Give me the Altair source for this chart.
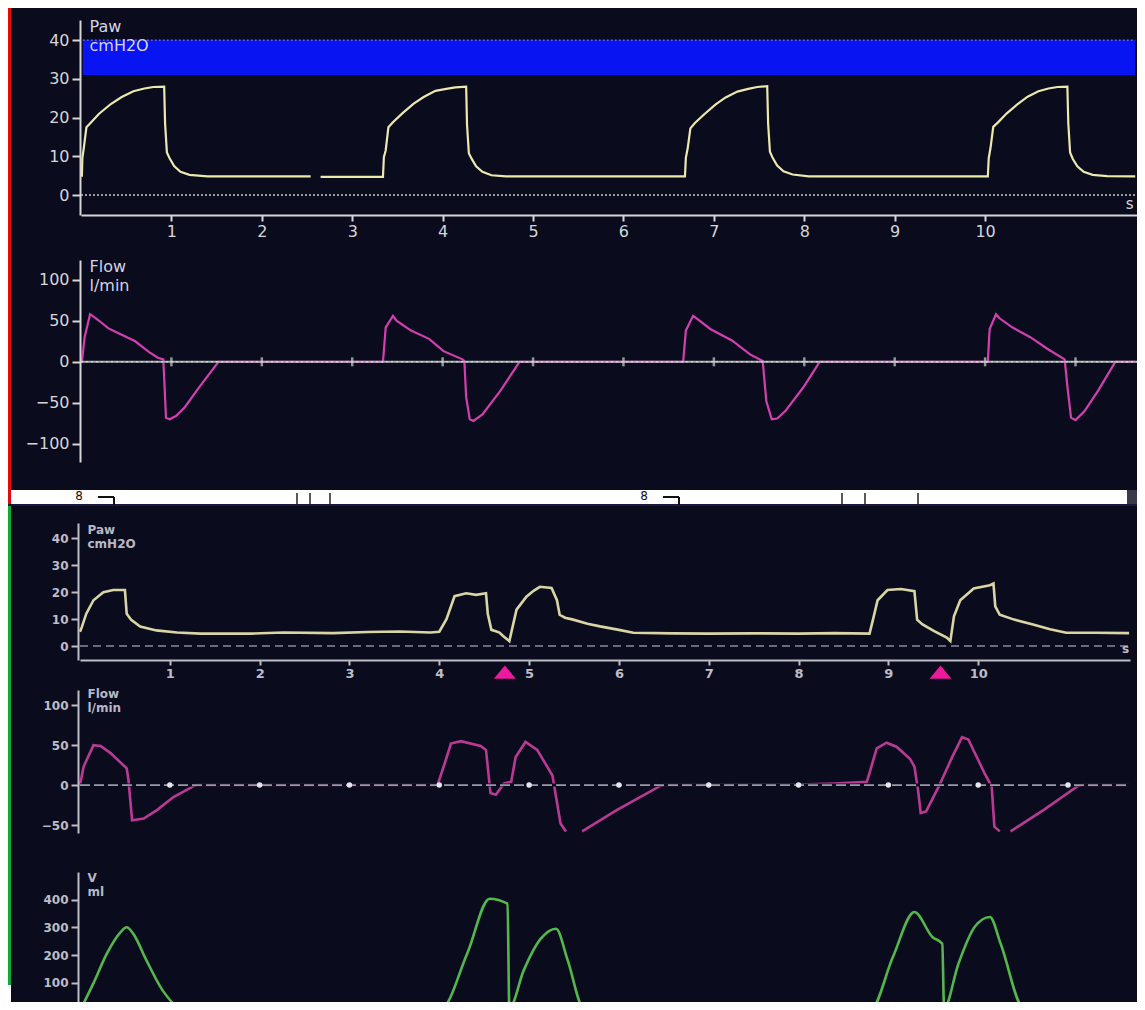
import altair as alt
import pandas as pd

# ---------------- data ----------------
# Top monitor: airway pressure (cmH2O) vs time (s)
top_paw_t = [0.00, 0.01, 0.015, 0.03, 0.06, 0.10, 0.20, 0.33, 0.45, 0.58, 0.70, 0.80, 0.92, 0.93, 0.95, 0.98, 1.03, 1.10, 1.20, 1.40, 2.54, None, 2.65, 3.34,
             3.35, 3.37, 3.40, 3.45, 3.56, 3.68, 3.79, 3.92, 4.04, 4.14, 4.26, 4.27, 4.29, 4.32, 4.37, 4.44, 4.54, 4.70, 6.68,
             6.69, 6.71, 6.74, 6.79, 6.90, 7.02, 7.13, 7.26, 7.38, 7.48, 7.59, 7.60, 7.62, 7.65, 7.70, 7.77, 7.87, 8.05, 10.03,
             10.04, 10.06, 10.09, 10.14, 10.24, 10.36, 10.47, 10.59, 10.70, 10.80, 10.91, 10.92, 10.94, 10.97, 11.02, 11.09, 11.19, 11.35, 11.66]
top_paw_v = [5.0, 5.0, 9.5, 12.0, 17.5, 18.5, 21.0, 23.5, 25.3, 26.8, 27.5, 27.9, 28.0, 18.5, 11.0, 9.5, 7.5, 6.0, 5.2, 4.8, 4.8, None, 4.7, 4.7,
             9.8, 11.5, 17.5, 18.8, 21.2, 23.6, 25.3, 26.9, 27.4, 27.8, 28.0, 18.0, 10.8, 9.4, 7.4, 6.0, 5.1, 4.8, 4.8,
             9.6, 12.0, 17.2, 18.6, 21.0, 23.4, 25.2, 26.7, 27.4, 27.9, 28.1, 18.4, 11.2, 9.6, 7.6, 6.1, 5.3, 4.8, 4.8,
             9.5, 12.2, 17.6, 18.7, 21.1, 23.5, 25.4, 26.8, 27.5, 27.9, 28.0, 18.6, 11.0, 9.3, 7.4, 6.0, 5.2, 4.9, 4.8]

# Top monitor: flow (l/min)
top_flow_t = [0.00, 0.01, 0.04, 0.10, 0.14, 0.20, 0.30, 0.45, 0.60, 0.75, 0.85, 0.91, 0.92, 0.94, 0.98, 1.05, 1.15, 1.30, 1.52, 3.33,
              3.34, 3.37, 3.45, 3.49, 3.65, 3.85, 4.01, 4.22, 4.24, 4.26, 4.30, 4.34, 4.44, 4.64, 4.85, 6.65,
              6.66, 6.69, 6.77, 6.82, 6.96, 7.20, 7.40, 7.54, 7.58, 7.64, 7.70, 7.79, 7.99, 8.17, 10.02,
              10.03, 10.05, 10.12, 10.16, 10.30, 10.50, 10.70, 10.88, 10.91, 10.95, 11.00, 11.10, 11.25, 11.44, 11.66]
top_flow_v = [0, 0, 30, 58, 55, 50, 41, 33, 25, 12, 5, 3, -20, -68, -70, -66, -55, -32, 0, 0,
              0, 42, 56, 50, 38, 28, 13, 3, 1, -43, -70, -72, -64, -35, 0, 0,
              0, 38, 56, 52, 40, 26, 9, 1, -48, -70, -69, -60, -31, 0, 0,
              0, 40, 58, 53, 42, 30, 15, 3, -30, -68, -71, -60, -35, 0, 0]

# Pressure alarm band (cmH2O)
alarm_low = 31
alarm_high = 40

# Bottom monitor: airway pressure
bot_paw_t = [0.00, 0.02, 0.07, 0.15, 0.26, 0.37, 0.50, 0.52, 0.57, 0.67, 0.85, 1.08, 1.34, 1.90, 2.26, 2.82, 3.20, 3.56, 3.90, 4.00,
             4.08, 4.17, 4.30, 4.41, 4.52, 4.54, 4.58, 4.63, 4.67, 4.71, 4.78, 4.86, 4.97, 5.05, 5.12, 5.25, 5.31, 5.34, 5.40, 5.49,
             5.65, 5.79, 6.00, 6.16, 6.60, 7.00, 7.50, 8.00, 8.40, 8.79, 8.83, 8.88, 8.99, 9.14, 9.29, 9.32, 9.38, 9.51, 9.65, 9.69,
             9.73, 9.80, 9.95, 10.13, 10.17, 10.19, 10.24, 10.40, 10.61, 10.80, 10.98, 11.30, 11.68]
bot_paw_v = [5.3, 7.0, 12.0, 17.0, 20.0, 20.8, 20.8, 12.0, 9.7, 7.2, 5.8, 5.0, 4.6, 4.6, 5.0, 4.8, 5.2, 5.4, 5.0, 5.3,
             10.0, 18.5, 19.6, 19.0, 19.6, 12.0, 6.0, 5.5, 5.0, 3.7, 1.8, 13.5, 18.3, 20.5, 22.0, 21.6, 17.0, 11.6, 10.5, 9.8,
             8.3, 7.3, 6.0, 4.9, 4.7, 4.6, 4.7, 4.6, 4.8, 4.6, 10.0, 17.0, 20.8, 21.2, 20.4, 9.8, 8.0, 5.5, 3.1, 1.8,
             11.0, 17.0, 21.4, 22.6, 23.2, 14.7, 11.6, 9.8, 8.0, 6.2, 4.9, 4.9, 4.8]

# Bottom monitor: flow (None = trace leaves the visible range)
bot_flow_t = [0.00, 0.04, 0.15, 0.23, 0.34, 0.52, 0.54, 0.58, 0.71, 0.86, 1.04, 1.27, 1.30, 3.98, 4.06, 4.13, 4.24, 4.46, 4.52, 4.57,
              4.63, 4.72, 4.80, 4.85, 4.96, 5.09, 5.26, 5.30, 5.35, 5.41, None,
              5.59, 5.98, 6.46, 6.50, 8.00, 8.40, 8.76, 8.80, 8.87, 8.98, 9.09, 9.24, 9.29, 9.33, 9.36, 9.42, 9.56, 9.71, 9.82, 9.89,
              10.07, 10.15, 10.18, 10.24, None, 10.36, 10.73, 11.11, 11.15, 11.68]
bot_flow_v = [0, 23, 50, 49, 40, 21, 6, -44, -42, -31, -15, -1, 0, 0, 27, 52, 55, 49, 44, -10,
              -12, 2, 4, 35, 54, 44, 12, -15, -48, -58, None,
              -58, -31, -1, 0, 0.5, 2, 4, 19, 46, 53, 48, 33, 23, -6, -35, -33, -2, 35, 60, 57,
              15, -2, -52, -58, None, -58, -31, -1, 0, 0]

# Bottom monitor: volume (ml)
bot_vol_t = [0.00, 0.15, 0.30, 0.45, 0.52, 0.59, 0.74, 0.92, 1.10, 1.33, 2.50, 3.57, 4.02, 4.31, 4.56, 4.76, 4.78, 4.94, 5.13, 5.30,
             5.43, 5.61, 7.00, 8.80, 9.05, 9.29, 9.49, 9.60, 9.62, 9.78, 9.96, 10.13, 10.25, 10.51, 11.68]
bot_vol_v = [0, 99, 206, 282, 300, 278, 181, 73, 13, 2, 4, 8, 8, 205, 403, 385, 8, 145, 259, 295,
             181, 8, 4, 2, 193, 355, 265, 241, 9, 169, 301, 337, 241, 8, 4]

trigger_t = [4.73, 9.58]                 # patient-trigger markers
second_marks_t = [1, 2, 3, 4, 5, 6, 7, 8, 9, 10, 11]
x_tick_values = [1, 2, 3, 4, 5, 6, 7, 8, 9, 10]
paw_ticks = [0, 10, 20, 30, 40]
top_flow_ticks = [-100, -50, 0, 50, 100]
bot_flow_ticks = [-50, 0, 50, 100]
vol_ticks = [0, 100, 200, 300, 400]


def trace(ts, vs):
    rows, seg = [], 0
    for t, v in zip(ts, vs):
        if t is None or v is None:
            seg += 1
            continue
        rows.append({"t": t, "v": v, "seg": seg})
    return pd.DataFrame(rows)


one = pd.DataFrame({"k": [0]})

# ---------------- styling / layout ----------------
W, H = 1129, 994
BG = "#0b0b1e"
F = "DejaVu Sans"
AX_TOP = "#d6d6d6"
AX_BOT = "#bdbdc6"

TX = alt.Scale(domain=[0, 11.68], range=[73, 1129], nice=False, zero=False)
BX = alt.Scale(domain=[0, 11.69], range=[72, 1122], nice=False, zero=False)
TPY = alt.Scale(domain=[-5.16, 45.2], range=[207, 12], nice=False, zero=False)
TFY = alt.Scale(domain=[-122, 124], range=[454, 252], nice=False, zero=False)
BPY = alt.Scale(domain=[-5.2, 45.7], range=[652, 515], nice=False, zero=False)
BFY = alt.Scale(domain=[-60, 119], range=[825, 682], nice=False, zero=False)
BVY = alt.Scale(domain=[-30, 499], range=[1011, 864], nice=False, zero=False)


def yaxis(offset, values, title, title_y, top):
    c = AX_TOP if top else AX_BOT
    return alt.Axis(orient="left", offset=offset, values=values, grid=False,
                    domainColor=c, domainWidth=2, tickColor=c, tickWidth=2,
                    tickSize=8 if top else 7,
                    labelColor=c, labelFont=F, labelFontSize=16 if top else 12,
                    labelFontWeight="normal" if top else "bold", labelPadding=3,
                    title=title, titleAngle=0, titleAlign="left", titleBaseline="top",
                    titleX=9, titleY=title_y, titleColor="#d4d4e4" if top else "#b8b8c4",
                    titleFont=F, titleFontSize=16 if top else 12,
                    titleFontWeight="normal" if top else "bold",
                    titleLineHeight=19 if top else 14, zindex=1)


def xaxis(offset, top):
    c = AX_TOP if top else AX_BOT
    return alt.Axis(orient="bottom", offset=offset, values=x_tick_values, format="d", grid=False,
                    domainColor=c, domainWidth=2, tickColor=c, tickWidth=2, tickSize=6 if top else 5,
                    labelColor=c, labelFont=F, labelFontSize=16 if top else 13,
                    labelFontWeight="normal" if top else "bold", labelPadding=2, title=None)


def zero_rule(xscale, yscale, x1, color, dash, width):
    return alt.Chart(one).mark_rule(color=color, strokeWidth=width, strokeDash=dash).encode(
        x=alt.XDatum(0, type="quantitative", scale=xscale, axis=None), x2=alt.X2Datum(x1),
        y=alt.YDatum(0, type="quantitative", scale=yscale, axis=None))


layers = []

# ----- top Paw panel -----
layers.append(alt.Chart(one).mark_rect(color="#0814f2").encode(
    x=alt.XDatum(0.02, type="quantitative", scale=TX, axis=None), x2=alt.X2Datum(11.66),
    y=alt.YDatum(alarm_low, type="quantitative", scale=TPY, axis=None), y2=alt.Y2Datum(alarm_high)))
layers.append(alt.Chart(one).mark_rule(color="#8a8aff", strokeWidth=1, strokeDash=[2, 2]).encode(
    x=alt.XDatum(0.02, type="quantitative", scale=TX, axis=None), x2=alt.X2Datum(11.66),
    y=alt.YDatum(alarm_high, type="quantitative", scale=TPY, axis=None)))
layers.append(zero_rule(TX, TPY, 11.66, "#c8c8c8", [2, 2], 1.5))
layers.append(alt.Chart(trace(top_paw_t, top_paw_v)).mark_line(
    color="#ece9ad", strokeWidth=2.2).encode(
    x=alt.X("t:Q", scale=TX, axis=xaxis(207 - H, True)),
    y=alt.Y("v:Q", scale=TPY, axis=yaxis(-72, paw_ticks, ["Paw", "cmH2O"], 10, True)),
    detail="seg:N"))
layers.append(alt.Chart(one).mark_text(text="s", color=AX_TOP, font=F, fontSize=15).encode(
    x=alt.XDatum(11.6, type="quantitative", scale=TX, axis=None),
    y=alt.YDatum(-2.2, type="quantitative", scale=TPY, axis=None)))

# ----- top Flow panel -----
layers.append(alt.Chart(trace(top_flow_t, top_flow_v)).mark_line(
    color="#d23fae", strokeWidth=2.2).encode(
    x=alt.X("t:Q", scale=TX, axis=None),
    y=alt.Y("v:Q", scale=TFY, axis=yaxis(-72, top_flow_ticks, ["Flow", "l/min"], 250, True)),
    detail="seg:N"))
layers.append(zero_rule(TX, TFY, 11.8, "#a8b0b0", [1, 0], 2))
layers.append(zero_rule(TX, TFY, 11.8, "#e4e4e4", [2, 3], 1))
layers.append(alt.Chart(pd.DataFrame({"t": second_marks_t})).mark_tick(
    orient="vertical", size=9, thickness=2.5, color="#c4d4cc").encode(
    x=alt.X("t:Q", scale=TX, axis=None),
    y=alt.YDatum(0, type="quantitative", scale=TFY, axis=None)))

# ----- bottom Paw panel -----
layers.append(zero_rule(BX, BPY, 11.69, "#8c8c9c", [8, 5], 1.5))
layers.append(alt.Chart(trace(bot_paw_t, bot_paw_v)).mark_line(
    color="#d9d6a4", strokeWidth=2.6).encode(
    x=alt.X("t:Q", scale=BX, axis=xaxis(652 - H, False)),
    y=alt.Y("v:Q", scale=BPY, axis=yaxis(-70, paw_ticks, ["Paw", "cmH2O"], 516, False)),
    detail="seg:N"))
layers.append(alt.Chart(pd.DataFrame({"t": trigger_t})).mark_point(
    shape="M -1 0.6 L 1 0.6 L 0 -0.6 Z", size=480, filled=True, opacity=1, color="#ec1a9c").encode(
    x=alt.X("t:Q", scale=BX, axis=None),
    y=alt.YDatum(-9.7, type="quantitative", scale=BPY, axis=None)))
layers.append(alt.Chart(one).mark_text(text="s", color=AX_BOT, font=F, fontSize=12, fontWeight="bold").encode(
    x=alt.XDatum(11.64, type="quantitative", scale=BX, axis=None),
    y=alt.YDatum(-1.2, type="quantitative", scale=BPY, axis=None)))

# ----- bottom Flow panel -----
layers.append(alt.Chart(trace(bot_flow_t, bot_flow_v)).mark_line(
    color="#b93a92", strokeWidth=2.6).encode(
    x=alt.X("t:Q", scale=BX, axis=None),
    y=alt.Y("v:Q", scale=BFY, axis=yaxis(-70, bot_flow_ticks, ["Flow", "l/min"], 680, False)),
    detail="seg:N"))
layers.append(zero_rule(BX, BFY, 11.69, BG, [1, 0], 3))
layers.append(zero_rule(BX, BFY, 11.69, "#9a9aa6", [10, 4], 1.8))
layers.append(alt.Chart(pd.DataFrame({"t": second_marks_t})).mark_circle(
    size=30, color="#e6e6ee", opacity=1).encode(
    x=alt.X("t:Q", scale=BX, axis=None),
    y=alt.YDatum(0, type="quantitative", scale=BFY, axis=None)))

# ----- bottom Volume panel -----
layers.append(alt.Chart(trace(bot_vol_t, bot_vol_v)).mark_line(
    color="#52b84a", strokeWidth=2.6, interpolate="monotone").encode(
    x=alt.X("t:Q", scale=BX, axis=None),
    y=alt.Y("v:Q", scale=BVY, axis=yaxis(-70, vol_ticks, ["V", "ml"], 864, False)),
    detail="seg:N"))

# ----- screenshot frame decorations -----
def rect(x0, x1, y0, y1, color):
    return alt.Chart(one).mark_rect(color=color).encode(
        x=alt.value(x0), x2=alt.value(x1), y=alt.value(y0), y2=alt.value(y1))


def rule(x0, x1, y0, y1, color="#111111", w=2):
    return alt.Chart(one).mark_rule(color=color, strokeWidth=w).encode(
        x=alt.value(x0), x2=alt.value(x1), y=alt.value(y0), y2=alt.value(y1))


layers.append(rect(0, 1119, 482, 497, "#ffffff"))
layers.append(rect(1119, 1129, 482, 497, "#3a3a48"))
layers.append(rect(0, 3, 0, 497, "#e20a0a"))
layers.append(rect(0, 3, 497, 977, "#12a83a"))
layers.append(rect(0, 3, 977, 994, "#ffffff"))
layers.append(rule(0, 1129, 497, 497, "#1a1a40", 2))
for dx in (0, 565):
    layers.append(alt.Chart(one).mark_text(text="8", color="#111111", font=F, fontSize=12,
                                           baseline="top", align="center").encode(
        x=alt.value(71 + dx), y=alt.value(483)))
    layers.append(rule(90 + dx, 106 + dx, 489, 489))
    layers.append(rule(106 + dx, 106 + dx, 489, 497))
for xx in (289, 302, 322, 834, 857, 910):
    layers.append(rule(xx, xx, 485, 497, "#222222", 1.5))

chart = alt.layer(*layers).resolve_scale(
    x="independent", y="independent"
).properties(
    width=W, height=H, padding=0,
    autosize=alt.AutoSizeParams(type="none"),
    background=BG,
).configure_view(stroke=None)

chart.save("out.html", embed_options={"renderer": "svg", "actions": False})
